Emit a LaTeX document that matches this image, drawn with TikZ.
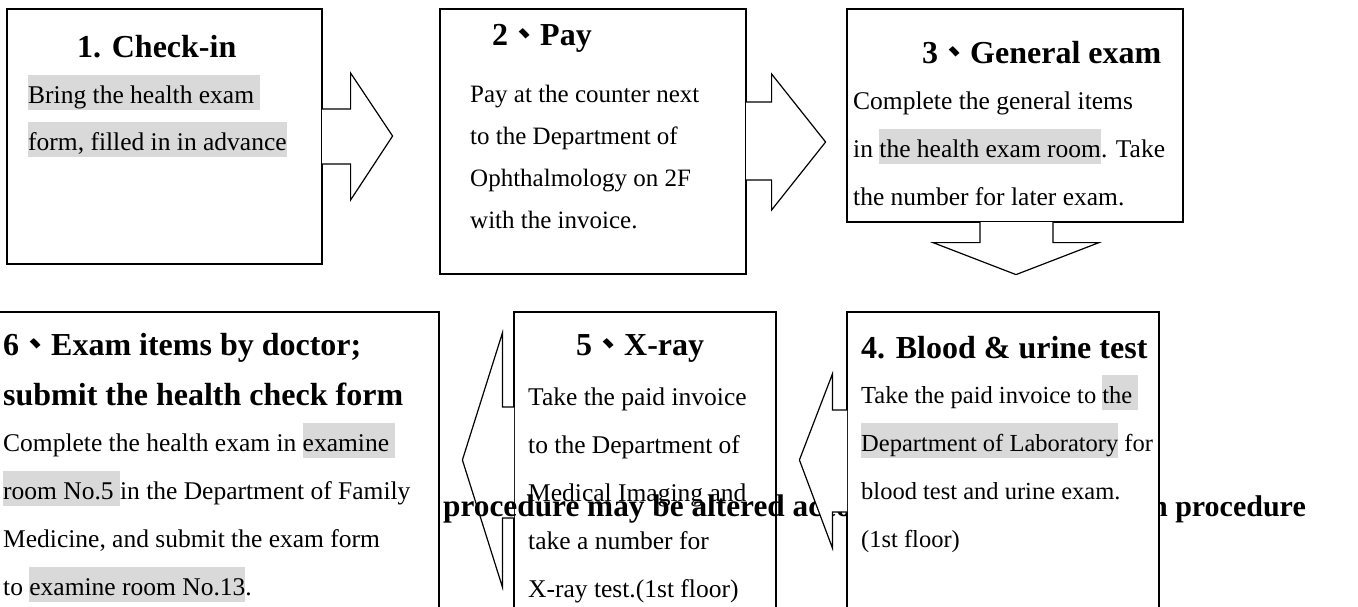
\documentclass[tikz,border=0pt]{standalone}
\usepackage{fontspec}
\setmainfont{Liberation Serif}
\newfontfamily\cjk{Noto Sans CJK TC}

\definecolor{hlgray}{HTML}{D9D9D9}
% grey marker behind a phrase
\newcommand{\hl}[1]{{\setlength{\fboxsep}{0pt}\colorbox{hlgray}{\rule[-7pt]{0pt}{35pt}#1}}}
\newcommand{\dun}{{\cjk 、}}

\tikzset{
  stepbox/.style={draw, line width=1.2pt, fill=white, inner sep=0pt},
  blockarrow/.style={draw, line width=1.2pt, fill=white, line join=miter},
  steptitle/.style={anchor=base west, inner sep=0pt, align=left,
    font=\fontsize{32}{50}\selectfont\bfseries},
  steptext/.style={anchor=base west, inner sep=0pt, align=left,
    font=\fontsize{25.5}{48}\selectfont},
  procnote/.style={inner sep=0pt, font=\fontsize{31.3}{36}\selectfont\bfseries},
}

\begin{document}
\begin{tikzpicture}[x=1pt,y=-1pt]
\useasboundingbox (0,0) rectangle (1358,606);

% top row (text nodes sit on the baseline of their last line)
\node[stepbox, minimum width=315pt, minimum height=255pt] (box1) at (164.5,136.5) {};
\node[steptitle] (title1) at (77,57) {1. Check-in};
\node[steptext, font=\fontsize{25.5}{47}\selectfont] (text1) at (28,150)
  {\hl{Bring the health exam\ }\\\hl{form, filled in in advance}};

\node[stepbox, minimum width=306pt, minimum height=265pt] (box2) at (593,141.5) {};
\node[steptitle] (title2) at (492,45) {2\dun Pay};
\node[steptext, font=\fontsize{25}{41.7}\selectfont] (text2) at (470,228)
  {Pay at the counter next\\to the Department of\\Ophthalmology on 2F\\with the invoice.};

\node[stepbox, minimum width=336pt, minimum height=213pt] (box3) at (1015,115.5) {};
\node[steptitle] (title3) at (922,63) {3\dun General exam};
\node[steptext] (text3) at (853,205)
  {Complete the general items\\in \hl{the health exam room}. Take\\the number for later exam.};

\draw[blockarrow] ([xshift=-0.6pt,yshift=27.5pt]box1.east) -- ++(28.6,0) -- ++(0,-36)
  -- ++(42,63) -- ++(-42,64) -- ++(0,-36) -- ++(-28.6,0);
\draw[blockarrow] ([xshift=-0.6pt,yshift=39.5pt]box2.east) -- ++(25.6,0) -- ++(0,-28)
  -- ++(54,68) -- ++(-54,68) -- ++(0,-30) -- ++(-25.6,0);
\draw[blockarrow] ([xshift=-35pt,yshift=0.6pt]box3.south) -- ++(0,20.6) -- ++(-47,0)
  -- ++(83,32) -- ++(83,-32) -- ++(-46,0) -- ++(0,-20.6);

% bottom row
\node[stepbox, minimum width=442pt, minimum height=303pt] (box6) at (218,463.5) {};
\node[steptitle] (title6) at (3,405) {6\dun Exam items by doctor;\\submit the health check form};
\node[steptext] (text6) at (3,595)
  {Complete the health exam in \hl{examine\ }\\\hl{room No.5\ }in the Department of Family\\Medicine, and submit the exam form\\to \hl{examine room No.13}.};

\node[stepbox, minimum width=262pt, minimum height=303pt] (box5) at (645,463.5) {};
\node[steptitle] (title5) at (576,355) {5\dun X-ray};
\node[steptext] (text5) at (528,597)
  {Take the paid invoice\\to the Department of\\Medical Imaging and\\take a number for\\X-ray test.(1st floor)};
\draw[blockarrow] ([xshift=0.6pt,yshift=56.5pt]box5.west) -- ++(-11.6,0) -- ++(0,-74)
  -- ++(-40,127) -- ++(40,127) -- ++(0,-69) -- ++(11.6,0);

\node[procnote, anchor=base west] (noteL) at (443,516) {procedure may be altered according to};
\node[procnote, anchor=base east, font=\fontsize{30}{36}\selectfont\bfseries] (noteR) at (1306,516)
  {the examination procedure};

\node[stepbox, minimum width=312pt, minimum height=303pt] (box4) at (1003,463.5) {};
\draw[blockarrow] ([xshift=0.6pt,yshift=53.5pt]box4.west) -- ++(-14.6,0) -- ++(0,-36)
  -- ++(-33,86) -- ++(33,88) -- ++(0,-36) -- ++(14.6,0);
\node[steptitle] (title4) at (861,358) {4. Blood \& urine test};
\node[steptext, font=\fontsize{24.5}{48}\selectfont] (text4) at (861,547)
  {Take the paid invoice to \hl{the\ }\\\hl{Department of Laboratory} for\\blood test and urine exam.\\(1st floor)};

\end{tikzpicture}
\end{document}
